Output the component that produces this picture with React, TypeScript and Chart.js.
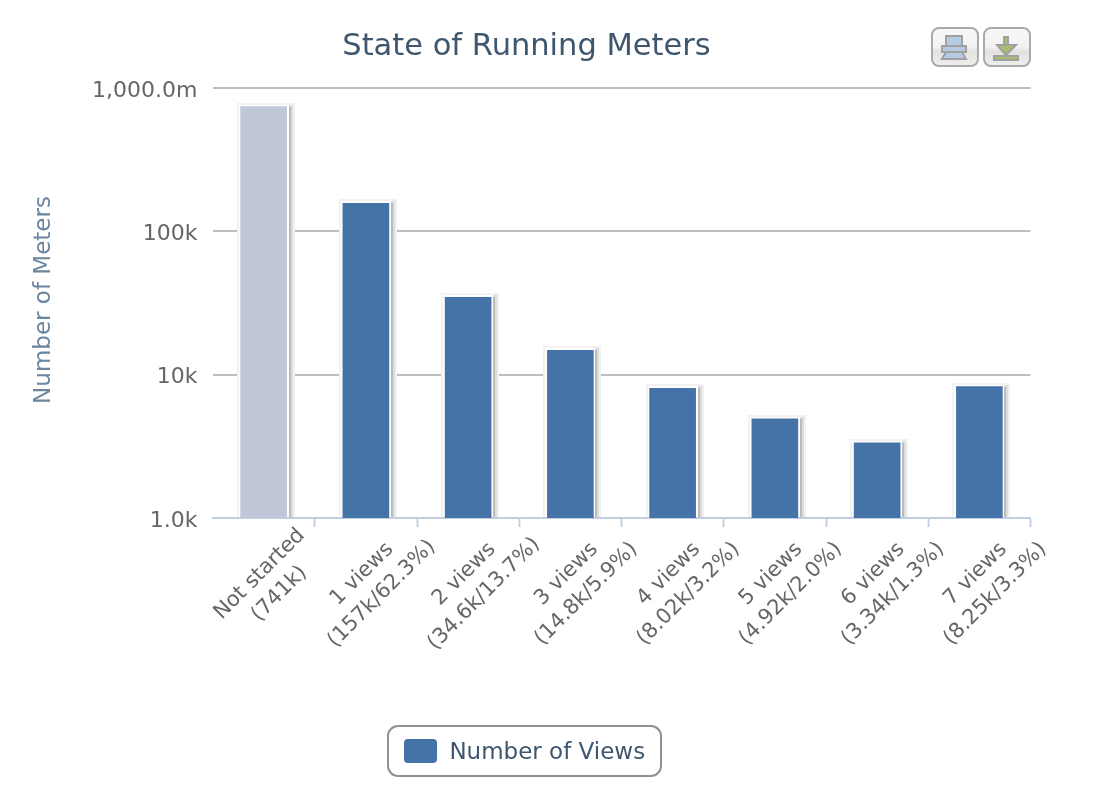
import React, { useEffect, useRef } from "react";
import { Chart, registerables } from "chart.js";

Chart.register(...registerables);

const categoryNames = ["Not started", "1 views", "2 views", "3 views", "4 views", "5 views", "6 views", "7 views"];
const categoryDetails = ["(741k)", "(157k/62.3%)", "(34.6k/13.7%)", "(14.8k/5.9%)", "(8.02k/3.2%)", "(4.92k/2.0%)", "(3.34k/1.3%)", "(8.25k/3.3%)"];
const meterCounts = [741000, 157000, 34600, 14800, 8020, 4920, 3340, 8250];
const yTickValues = [1000, 10000, 100000, 1000000];
const yTickLabels = ["1.0k", "10k", "100k", "1,000.0m"];
const seriesName = "Number of Views";

const FONT = '"DejaVu Sans", sans-serif';
const BLUE = "#4572a7";
const PALE = "#c0c7d9";

const barDecor = {
  id: "barDecor",
  beforeDatasetsDraw(chart: any) {
    const { ctx } = chart;
    const bottom = chart.chartArea.bottom - 1;
    chart.getDatasetMeta(0).data.forEach((bar: any) => {
      const p = bar.getProps(["x", "y", "width"], true);
      const l = Math.round(p.x - p.width / 2);
      const r = l + p.width;
      const t = Math.round(p.y);
      ctx.save();
      ctx.fillStyle = "#f2f2f2";
      ctx.fillRect(l - 4, t - 4, r - l + 12, bottom - t + 4);
      ctx.fillStyle = "#dddddd";
      ctx.fillRect(r + 2, t - 2, 4, bottom - t + 2);
      ctx.fillStyle = "#bbbbbb";
      ctx.fillRect(r + 2, t, 2, bottom - t);
      ctx.fillStyle = "#ffffff";
      ctx.fillRect(l - 2, t - 2, r - l + 4, bottom - t + 2);
      ctx.restore();
    });
  },
};

const rotatedLabels = {
  id: "rotatedLabels",
  afterDraw(chart: any) {
    const { ctx } = chart;
    const xs = chart.scales.x;
    const labels = chart.data.labels as string[][];
    ctx.save();
    ctx.font = `21px ${FONT}`;
    ctx.fillStyle = "#666666";
    ctx.textAlign = "center";
    ctx.textBaseline = "middle";
    labels.forEach((lines, i) => {
      ctx.save();
      ctx.translate(xs.getPixelForTick(i) + 6, xs.top + 66);
      ctx.rotate(-Math.PI / 4);
      ctx.fillText(lines[0], 0, -14);
      ctx.fillText(lines[1], 0, 14);
      ctx.restore();
    });
    ctx.restore();
  },
};

function button(ctx: CanvasRenderingContext2D, x: number, y: number, w: number, h: number) {
  const g = ctx.createLinearGradient(0, y, 0, y + h);
  g.addColorStop(0, "#f8f8f8");
  g.addColorStop(0.5, "#f2f2f2");
  g.addColorStop(0.62, "#e2e2e2");
  g.addColorStop(1, "#eeeeee");
  ctx.beginPath();
  ctx.roundRect(x, y, w, h, 7);
  ctx.fillStyle = g;
  ctx.fill();
  ctx.lineWidth = 2;
  ctx.strokeStyle = "#aaaaaa";
  ctx.stroke();
}

const decorations = {
  id: "decorations",
  afterDraw(chart: any) {
    const { ctx } = chart;
    ctx.save();
    // legend frame and swatch
    const hit = chart.legend.legendHitBoxes[0];
    const frameLeft = Math.round(hit.left - 19.5);
    const frameTop = chart.legend.top - 2;
    ctx.beginPath();
    ctx.roundRect(frameLeft, frameTop, 273, 50, 10);
    ctx.lineWidth = 2;
    ctx.strokeStyle = "#909090";
    ctx.stroke();
    ctx.beginPath();
    ctx.roundRect(frameLeft + 16, frameTop + 13, 33, 24, 4);
    ctx.fillStyle = BLUE;
    ctx.fill();

    // export buttons
    button(ctx, 932, 28, 46, 38);
    button(ctx, 984, 28, 46, 38);
    ctx.lineWidth = 2;
    ctx.strokeStyle = "#a0a0a0";
    ctx.fillStyle = "#b5cbe3";
    ctx.fillRect(946, 36, 16, 10);
    ctx.strokeRect(946, 36, 16, 10);
    ctx.beginPath();
    ctx.moveTo(946, 52);
    ctx.lineTo(962, 52);
    ctx.lineTo(966, 59);
    ctx.lineTo(942, 59);
    ctx.closePath();
    ctx.fill();
    ctx.stroke();
    ctx.fillRect(942, 46, 24, 6);
    ctx.strokeRect(942, 46, 24, 6);

    ctx.fillStyle = "#a6c06c";
    ctx.fillRect(1004, 37, 4, 9);
    ctx.strokeRect(1004, 37, 4, 9);
    ctx.beginPath();
    ctx.moveTo(997, 45);
    ctx.lineTo(1016, 45);
    ctx.lineTo(1006, 55);
    ctx.closePath();
    ctx.fill();
    ctx.stroke();
    ctx.fillRect(994, 56, 24, 4);
    ctx.strokeRect(994, 56, 24, 4);
    ctx.restore();
  },
};

export default function App() {
  const ref = useRef<HTMLCanvasElement>(null);
  useEffect(() => {
    document.body.style.margin = "0";
    const chart = new Chart(ref.current!, {
      type: "bar",
      data: {
        labels: categoryNames.map((n, i) => [n, categoryDetails[i]]),
        datasets: [
          {
            label: seriesName,
            data: meterCounts,
            backgroundColor: meterCounts.map((_, i) => (i === 0 ? PALE : BLUE)),
            barThickness: 46,
            borderWidth: 0,
          },
        ],
      },
      options: {
        responsive: false,
        animation: false,
        devicePixelRatio: 1,
        layout: { padding: { left: 22.5, right: 21.5, top: 0, bottom: 17 } },
        plugins: {
          tooltip: { enabled: false },
          title: {
            display: true,
            text: "State of Running Meters",
            color: "#3e576f",
            font: { family: FONT, size: 30.5, weight: "normal" },
            padding: { top: 28.5, bottom: 22.9 },
          },
          legend: {
            display: true,
            position: "bottom",
            labels: {
              boxWidth: 30,
              boxHeight: 24,
              padding: 13,
              color: "#3e576f",
              font: { family: FONT, size: 23 },
              useBorderRadius: true,
              borderRadius: 4,
              generateLabels: () => [
                { text: seriesName, fillStyle: "rgba(0,0,0,0)", strokeStyle: "rgba(0,0,0,0)", lineWidth: 0, hidden: false, datasetIndex: 0, fontColor: "#3e576f", borderRadius: 4 } as any,
              ],
            },
          },
        },
        scales: {
          x: {
            grid: {
              offset: true,
              drawOnChartArea: false,
              tickLength: 9,
              tickWidth: 2,
              tickColor: (c: any) => (c.index === 0 ? "rgba(0,0,0,0)" : "#c0d0e0"),
            },
            border: { display: true, color: "#c0d0e0", width: 2 },
            ticks: { display: false },
            afterFit: (s: any) => {
              s.height = 792 - 17 - 47 - 518;
            },
          },
          y: {
            type: "logarithmic",
            min: 1000,
            max: 1000000,
            beforeUpdate: (s: any) => {
              if (s.__nudged) return;
              s.__nudged = true;
              // the original draws its tick labels a little under the grid line,
              // and its axis title a little above the plot's middle
              const items = s._computeLabelItems;
              s._computeLabelItems = function (area: any) {
                const out = items.call(s, area);
                out.forEach((it: any) => {
                  it.options.translation = [it.options.translation[0], it.options.translation[1] + 3];
                });
                return out;
              };
              const drawTitle = s.drawTitle;
              s.drawTitle = function () {
                s.ctx.save();
                s.ctx.translate(0, -3);
                drawTitle.call(s);
                s.ctx.restore();
              };
            },
            afterBuildTicks: (s: any) => {
              s.ticks = yTickValues.map((value) => ({ value, major: true }));
            },
            afterFit: (s: any) => {
              s.width = 190;
            },
            grid: { color: "#bebebe", lineWidth: 2, drawTicks: false },
            border: { display: false },
            ticks: {
              color: "#666666",
              padding: 15,
              font: { family: FONT, size: 22 },
              autoSkip: false,
              callback: (v: any) => yTickLabels[yTickValues.indexOf(Number(v))] ?? "",
            },
            title: {
              display: true,
              text: "Number of Meters",
              color: "#6d869f",
              font: { family: FONT, size: 23, weight: "normal" },
              padding: { top: 8, bottom: 0 },
            },
          },
        },
      },
      plugins: [barDecor, rotatedLabels, decorations],
    } as any);
    return () => chart.destroy();
  }, []);
  return (
    <div style={{ position: "absolute", left: 0, top: 0, width: 1094, height: 792, overflow: "hidden", background: "#fff" }}>
      <canvas ref={ref} width={1052} height={792} style={{ display: "block" }} />
    </div>
  );
}
